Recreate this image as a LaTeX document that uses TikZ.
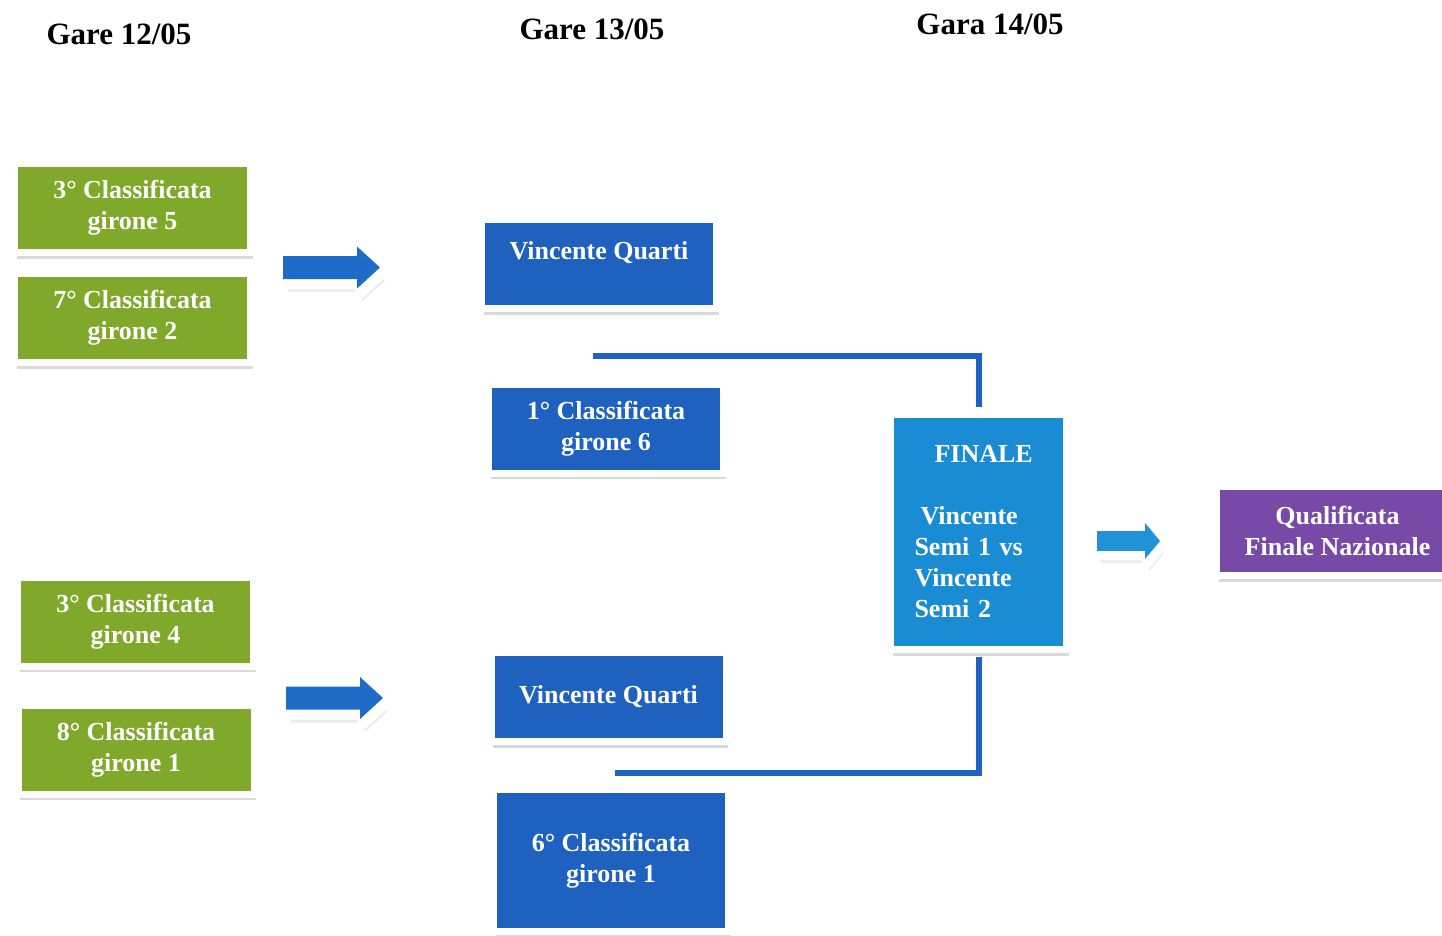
\documentclass[tikz,border=0pt]{standalone}
\usepackage{fontspec}
\setmainfont{Liberation Serif}
\usetikzlibrary{shadows}

\definecolor{cardgreen}{RGB}{128,168,42}
\definecolor{cardblue}{RGB}{31,97,190}
\definecolor{finblue}{RGB}{26,140,212}
\definecolor{cardviolet}{RGB}{118,74,166}
\definecolor{linkblue}{RGB}{32,98,196}
\definecolor{arrblue}{RGB}{30,108,200}
\definecolor{arrlight}{RGB}{34,146,216}

\tikzset{
  card/.style={draw=white, line width=7pt, text=white, align=center, inner sep=0pt,
    font=\fontsize{26}{31}\selectfont\bfseries,
    drop shadow={shadow xshift=2pt, shadow yshift=-6pt, opacity=.3}},
  greencard/.style={card, fill=cardgreen, minimum width=236pt, minimum height=89pt},
  bluecard/.style={card, fill=cardblue, minimum width=235pt, minimum height=89pt},
  title/.style={anchor=base, font=\fontsize{31}{36}\selectfont\bfseries},
  link/.style={draw=linkblue, line width=6pt},
  pics/blockarr/.style={code={
    \filldraw[white, line width=10pt, line join=round, shift={(3,5)},
      drop shadow={shadow xshift=2pt, shadow yshift=-8pt, opacity=.15}]
      (0,-11.5) -- (74,-11.5) -- (74,-21) -- (97,0) -- (74,21) -- (74,11.5) -- (0,11.5) -- cycle;
    \fill[#1] (0,-11.5) -- (74,-11.5) -- (74,-21) -- (97,0) -- (74,21) -- (74,11.5) -- (0,11.5) -- cycle;
  }}
}

\begin{document}
\begin{tikzpicture}[x=1pt,y=-1pt]
\useasboundingbox (0,0) rectangle (1442,935);
\clip (0,0) rectangle (1442,935);

% Titles
\node[title] (t12) at (119,44) {Gare 12/05};
\node[title] (t13) at (592,39) {Gare 13/05};
\node[title] (t14) at (990,34) {Gara 14/05};

% Quarter-final teams
\node[greencard] (g5) at (132.5,208) {3° Classificata\\girone 5};
\node[greencard] (g2) at (132.5,318) {7° Classificata\\girone 2};
\node[greencard] (g4) at (135.5,621.5) {3° Classificata\\girone 4};
\node[greencard] (g1) at (136,749.5) {8° Classificata\\girone 1};

% Block arrows
\pic (arrtop) at (283,267.5) {blockarr=arrblue};
\pic (arrbot) at (286,698) {blockarr=arrblue};
\pic[xscale=.65, yscale=.85] (arrfin) at (1097,541) {blockarr=arrlight};

% Semi-finals
\node[bluecard] (vq1) at (599,264) {Vincente Quarti\\[-14pt]\strut};
\node[bluecard] (p6) at (606,428.5) {1° Classificata\\girone 6};
\node[bluecard] (vq2) at (608.5,697) {Vincente Quarti};
\node[bluecard, minimum height=142pt] (p1) at (611,860.5) {6° Classificata\\girone 1};

% Final
\node[card, fill=finblue, minimum width=176pt, minimum height=235pt,
  text width=128pt, align=left] (fin) at (978.5,532)
  {\hspace*{20pt}FINALE\\[31pt]\hspace*{6pt}Vincente\\Semi 1 vs\\Vincente\\Semi 2};

% Qualified team
\node[card, fill=cardviolet, minimum width=242pt, minimum height=89pt] (naz) at (1337.5,531)
  {Qualificata\\Finale Nazionale};

% Bracket lines
\coordinate (semitop) at (593,356);
\coordinate (semibot) at (615,773);
\draw[link, shorten >=4pt] (semitop) -| (fin.north);
\draw[link, shorten <=4pt] (fin.south) |- (semibot);
\end{tikzpicture}
\end{document}
